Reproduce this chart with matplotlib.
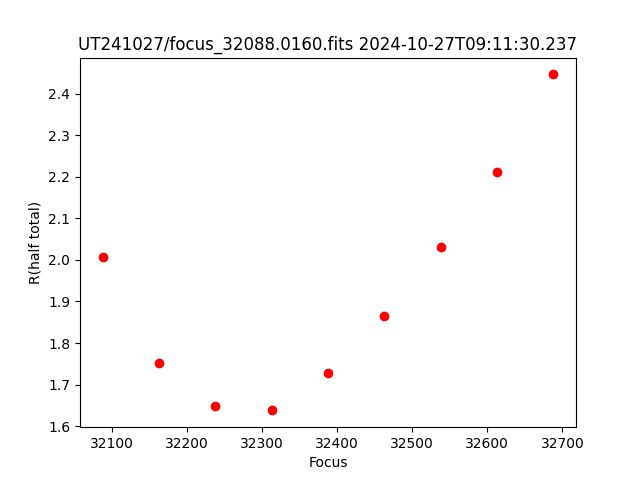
import matplotlib
matplotlib.use('Agg')
import matplotlib.pyplot as plt

# focus positions and half-total radius
focus = [32088, 32163, 32238, 32313, 32388, 32463, 32538, 32613, 32688]
r_half = [2.008, 1.751, 1.648, 1.638, 1.727, 1.864, 2.030, 2.212, 2.446]

fig = plt.figure(figsize=(6.4, 4.8), dpi=100)
plt.plot(focus, r_half, 'ro')
plt.title('UT241027/focus_32088.0160.fits 2024-10-27T09:11:30.237')
plt.xlabel('Focus')
plt.ylabel('R(half total)')
plt.savefig('out.png')
